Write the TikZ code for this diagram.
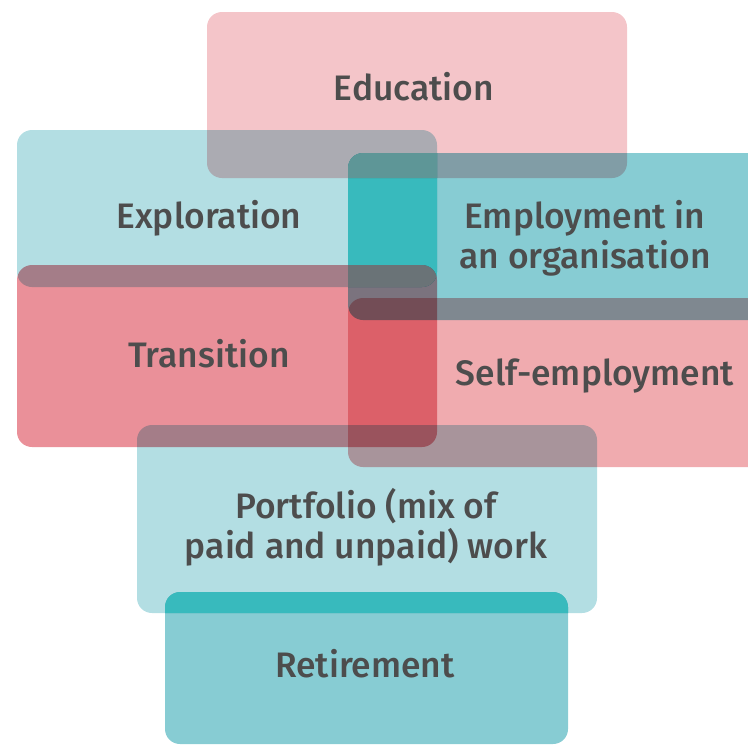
\documentclass[tikz,border=0pt]{standalone}
\usepackage{fontspec}
\setmainfont{Fira Sans Medium}
\definecolor{edupink}{HTML}{F4C5C9}
\definecolor{trpink}{HTML}{EA9099}
\definecolor{selfpink}{HTML}{F0ABAF}
\definecolor{paleteal}{HTML}{B3DEE3}
\definecolor{midteal}{HTML}{87CCD3}
\definecolor{deepteal}{HTML}{38BABD}
\definecolor{greyteal}{HTML}{5E9697}
\definecolor{slateteal}{HTML}{6A7377}
\definecolor{labelgrey}{HTML}{4D4D4D}
\begin{document}
\begin{tikzpicture}[x=0.5pt,y=-0.5pt,
   box/.style={rounded corners=7.5pt,blend mode=multiply},
   patch/.style={rounded corners=7.5pt},
   lbl/.style={anchor=base,text=labelgrey,align=center,inner sep=0pt,
               font=\fontsize{17.7}{20}\selectfont}]
   \useasboundingbox (0,0) rectangle (748,745);
   \clip (0,0) rectangle (748,745);
   \fill[box,fill=paleteal] (17,130)  rectangle (437,287);
   \fill[box,fill=midteal]  (348,153) rectangle (790,320);
   \begin{scope}
     \clip[patch] (17,130) rectangle (437,287);
     \fill[patch,fill=deepteal] (348,153) rectangle (790,320);
   \end{scope}
   \fill[box,fill=edupink]  (207,12)  rectangle (627,178);
   \begin{scope}
     \clip[patch] (17,130) rectangle (437,287);
     \clip[patch] (207,12) rectangle (627,178);
     \fill[patch,fill=greyteal] (348,153) rectangle (790,320);
   \end{scope}
   \fill[box,fill=trpink]   (17,265)  rectangle (437,447);
   \begin{scope}
     \clip[patch] (17,130) rectangle (437,287);
     \clip[patch] (17,265) rectangle (437,447);
     \fill[patch,fill=slateteal] (348,153) rectangle (790,320);
   \end{scope}
   \fill[box,fill=selfpink] (348,298) rectangle (790,467);
   \fill[box,fill=paleteal] (137,425) rectangle (597,613);
   \fill[box,fill=midteal]  (165,592) rectangle (568,744);
   \begin{scope}
     \clip[patch] (137,425) rectangle (597,613);
     \fill[patch,fill=deepteal] (165,592) rectangle (568,744);
   \end{scope}
  %
   \node[lbl] (education)  at (414,100) {Education};
   \node[lbl] (exploration) at (209,228) {Exploration};
   \node[lbl] (employment) at (585,268) {Employment in\\an organisation};
   \node[lbl] (transition) at (209,367) {Transition};
   \node[lbl] (selfemp)    at (595,385) {Self-employment};
   \node[lbl] (portfolio)  at (366,558) {Portfolio (mix of\\paid and unpaid) work};
   \node[lbl] (retirement) at (365,677) {Retirement};
\end{tikzpicture}
\end{document}
